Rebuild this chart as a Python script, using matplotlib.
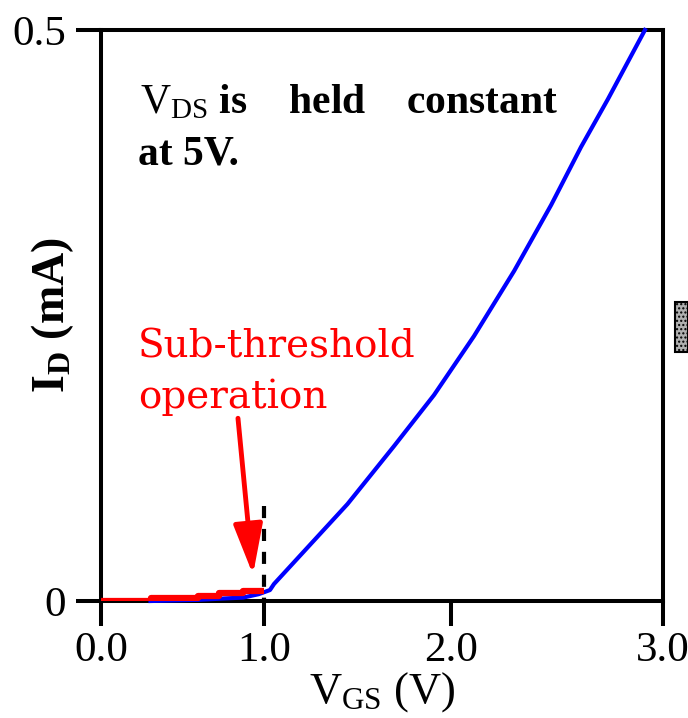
import matplotlib
matplotlib.use('Agg')
import matplotlib.pyplot as plt
import numpy as np
from matplotlib.patches import Rectangle

plt.rcParams['font.family'] = ['Liberation Serif', 'DejaVu Serif']
plt.rcParams['mathtext.fontset'] = 'custom'
plt.rcParams['mathtext.rm'] = 'Liberation Serif'
plt.rcParams['mathtext.bf'] = 'Liberation Serif:bold'
plt.rcParams['mathtext.it'] = 'Liberation Serif:italic'

# data
vgs_blue = [0.32, 0.61, 0.74, 0.88, 0.97, 1.034, 1.057, 1.462, 1.708, 1.913,
            2.113, 2.309, 2.486, 2.626, 2.751, 2.919]
id_blue = [0.0, 0.001, 0.002, 0.003, 0.006, 0.0096, 0.0149, 0.0849, 0.1357,
           0.1804, 0.2320, 0.2890, 0.3468, 0.3975, 0.4396, 0.5]
vgs_sub = [0.0, 0.32, 0.61, 0.74, 0.88, 1.0]
id_sub = [0.0, 0.0026, 0.0044, 0.007, 0.0088, 0.0088]
vth = 1.0
vth_top = 0.083
arrow_tail = (0.85, 0.160)
arrow_tip = (0.937, 0.023)
xticks = [0, 1, 2, 3]
xtick_labels = ['0.0', '1.0', '2.0', '3.0']
yticks = [0, 0.5]
ytick_labels = ['0', '0.5']

# the original axis is drawn with slightly widening spacing
A, B = 0.26833, 0.021667


def fwd(x):
    x = np.asarray(x, dtype=float)
    return A * x + B * x * x


def inv(f):
    f = np.asarray(f, dtype=float)
    return (-A + np.sqrt(np.maximum(A * A + 4 * B * f, 0))) / (2 * B)


fig = plt.figure(figsize=(6.88, 7.18), dpi=100)
ax = fig.add_axes([101 / 688, 117 / 718, 562 / 688, 571 / 718])
ax.set_xscale('function', functions=(fwd, inv))

ax.plot(vgs_blue, id_blue, color='#0000ff', lw=3, zorder=3, clip_on=False)
ax.plot(vgs_sub, id_sub, color='#ff0000', lw=4.5, drawstyle='steps-post',
        zorder=4, solid_capstyle='butt')
ax.plot([vth, vth], [vth_top, 0], color='black', lw=3, dashes=(2.9, 2.6), zorder=2)

ax.annotate('', xy=arrow_tip, xytext=arrow_tail,
            arrowprops=dict(arrowstyle='-|>,head_length=1.55,head_width=0.45',
                            color='#ff0000', lw=3.5, mutation_scale=20,
                            shrinkA=0, shrinkB=0), zorder=5)

ax.set_xlim(0, 3)
ax.set_ylim(0, 0.5)
ax.set_xticks(xticks)
ax.set_xticklabels(xtick_labels)
ax.set_yticks(yticks)
ax.set_yticklabels(ytick_labels)
ax.minorticks_off()
ax.tick_params(axis='both', which='major', direction='out', length=18,
               width=2.9, labelsize=31, color='black')
ax.tick_params(axis='x', pad=4)
ax.tick_params(axis='y', pad=7)
for s in ax.spines.values():
    s.set_linewidth(2.9)

ax.set_xlabel(r'$\mathrm{V_{GS}}$ (V)', fontsize=32, labelpad=0)
ax.set_ylabel(r'$\mathbf{I_D}$ (mA)', fontsize=33, fontweight='bold')
ax.yaxis.set_label_coords(-0.045, 0.5)

ax.text(0.069, 0.8546, r'$\mathrm{V_{DS}}$ is    held    constant',
        transform=ax.transAxes, fontsize=30, fontweight='bold', va='baseline')
ax.text(0.066, 0.7636, 'at 5V.', transform=ax.transAxes, fontsize=30,
        fontweight='bold', va='baseline')
ax.text(0.066, 0.4273, 'Sub-threshold', transform=ax.transAxes, fontsize=28,
        family='DejaVu Serif', color='#ff0000', va='baseline')
ax.text(0.066, 0.3380, 'operation', transform=ax.transAxes, fontsize=28,
        family='DejaVu Serif', color='#ff0000', va='baseline')

# small grey hatched box at right edge of the original
fig.add_artist(Rectangle((675 / 688, 366 / 718), 13 / 688, 50 / 718,
                         transform=fig.transFigure, facecolor='#b0b0b0',
                         edgecolor='black', lw=1.5, hatch='....'))

fig.savefig('out.png', dpi=100)
